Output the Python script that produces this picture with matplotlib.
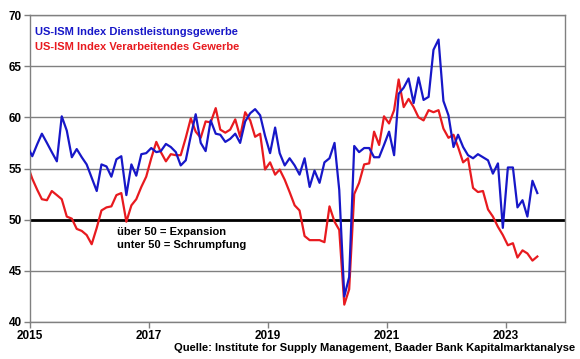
import pandas as pd
import matplotlib.pyplot as plt
import matplotlib.dates as mdates

plt.rcParams['font.family'] = ['Liberation Sans', 'DejaVu Sans']

# Monatswerte Dez 2014 - Jul 2023 (Dez 2014 nur als Startpunkt, wird abgeschnitten)
monate = pd.date_range('2014-12-01', '2023-07-01', freq='MS') + pd.Timedelta(days=14)

dienstleistung = [
    57.2,
    56.2, 57.4, 58.4, 57.5, 56.6, 55.7, 60.1, 58.7, 56.1, 56.9, 56.1, 55.4,
    54.1, 52.8, 55.4, 55.2, 54.2, 55.9, 56.2, 52.4, 55.4, 54.3, 56.4, 56.5,
    57.0, 56.6, 56.7, 57.4, 57.1, 56.6, 55.3, 55.8, 58.2, 60.3, 57.5, 56.7,
    59.7, 58.4, 58.3, 57.6, 57.9, 58.4, 57.5, 59.6, 60.4, 60.8, 60.2, 58.2,
    56.5, 59.0, 56.5, 55.3, 56.0, 55.3, 54.4, 56.0, 53.2, 54.8, 53.6, 55.6,
    56.0, 57.5, 52.9, 42.5, 44.4, 57.2, 56.6, 57.0, 57.0, 56.1, 56.1, 57.3,
    58.6, 56.3, 62.3, 62.9, 63.8, 61.4, 63.9, 61.7, 62.0, 66.6, 67.6, 61.6,
    60.2, 57.1, 58.3, 57.1, 56.3, 56.0, 56.4, 56.1, 55.8, 54.5, 55.5, 49.2,
    55.1, 55.1, 51.2, 51.9, 50.3, 53.8, 52.6,
]

verarbeitend = [
    55.4,
    54.0, 52.9, 52.0, 51.9, 52.8, 52.4, 52.0, 50.3, 50.1, 49.1, 48.9, 48.5,
    47.6, 49.2, 50.9, 51.2, 51.3, 52.4, 52.6, 49.8, 51.4, 52.0, 53.2, 54.2,
    56.0, 57.6, 56.6, 55.7, 56.4, 56.3, 56.3, 58.0, 59.9, 58.6, 58.0, 59.6,
    59.5, 60.9, 58.8, 58.5, 58.8, 59.8, 58.1, 60.5, 59.7, 58.1, 58.4, 54.9,
    55.6, 54.4, 54.9, 53.9, 52.7, 51.4, 50.9, 48.4, 48.0, 48.0, 48.0, 47.8,
    51.3, 49.8, 49.0, 41.7, 43.2, 52.5, 53.6, 55.4, 55.5, 58.6, 57.3, 60.1,
    59.4, 60.7, 63.7, 61.0, 61.8, 61.0, 60.0, 59.7, 60.7, 60.5, 60.7, 58.9,
    58.0, 58.3, 57.1, 55.6, 56.0, 53.1, 52.7, 52.8, 51.0, 50.3, 49.3, 48.5,
    47.5, 47.7, 46.3, 47.0, 46.7, 46.0, 46.4,
]

jahre = [2015, 2017, 2019, 2021, 2023]
y_ticks = [40, 45, 50, 55, 60, 65, 70]

blau = '#1717c8'
rot = '#e81a1f'
grau = '#808080'

fig = plt.figure(figsize=(5.8, 3.59), dpi=100)
ax = fig.add_axes([30 / 580, 37 / 359, 535 / 580, 307 / 359])

# Gitterlinien
for wert in y_ticks:
    if wert == 50:
        ax.axhline(wert, color='black', lw=2.0, zorder=1)
    else:
        ax.axhline(wert, color=grau, lw=1.0, zorder=1)

ax.plot(monate, dienstleistung, color=blau, lw=1.6, zorder=3)
ax.plot(monate, verarbeitend, color=rot, lw=1.6, zorder=2)

ax.set_xlim(pd.Timestamp('2015-01-01'), pd.Timestamp('2024-01-01'))
ax.set_ylim(40, 70)
ax.set_yticks(y_ticks)
ax.set_xticks([pd.Timestamp(f'{j}-01-01') for j in jahre])
ax.xaxis.set_major_formatter(mdates.DateFormatter('%Y'))

for s in ax.spines.values():
    s.set_color(grau)
    s.set_linewidth(1.0)

ax.tick_params(axis='both', length=4, width=1, color=grau, labelsize=8.5, pad=2)
for lab in ax.get_xticklabels() + ax.get_yticklabels():
    lab.set_fontweight('bold')

# Legende als Text
ax.text(0.01, 0.946, 'US-ISM Index Dienstleistungsgewerbe', transform=ax.transAxes,
        color=blau, fontsize=8, fontweight='bold', va='center', ha='left')
ax.text(0.01, 0.896, 'US-ISM Index Verarbeitendes Gewerbe', transform=ax.transAxes,
        color=rot, fontsize=8, fontweight='bold', va='center', ha='left')

ax.text(0.163, 0.293, 'über 50 = Expansion', transform=ax.transAxes,
        fontsize=8, fontweight='bold', va='center', ha='left')
ax.text(0.163, 0.251, 'unter 50 = Schrumpfung', transform=ax.transAxes,
        fontsize=8, fontweight='bold', va='center', ha='left')

fig.text(575 / 580, 1 - 348 / 359,
         'Quelle: Institute for Supply Management, Baader Bank Kapitalmarktanalyse',
         fontsize=8, fontweight='bold', ha='right', va='center')

fig.savefig('out.png', dpi=100)
